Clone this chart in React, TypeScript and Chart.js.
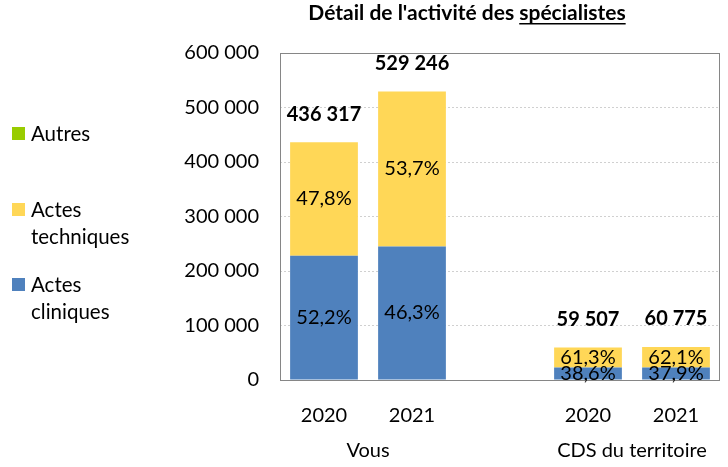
import React, { useEffect, useRef } from 'react';
import { Chart, registerables } from 'chart.js';

Chart.register(...registerables);

const categories = ['2020', '2021', '', '2020', '2021'];
const groupLabels = ['Vous', 'CDS du territoire'];
const groupIndexes = [[0, 1], [3, 4]];
const actesCliniques = [227757, 245041, null, 22970, 23034];
const actesTechniques = [208560, 284205, null, 36478, 37741];
const autres = [0, 0, null, 59, 0];
const seriesNames = ['Actes cliniques', 'Actes techniques', 'Autres'];
const seriesColors = ['#4F81BD', '#FFD757', '#99CC00'];
const legendOrder = [
  { idx: 2, lines: ['Autres'], y: 134 },
  { idx: 1, lines: ['Actes', 'techniques'], y: 210 },
  { idx: 0, lines: ['Actes', 'cliniques'], y: 285 },
];
const titleMain = "Détail de l'activité des ";
const titleUnderlined = 'spécialistes';
const yMax = 600000;
const yStep = 100000;

const FONT = 'Lato, "Open Sans", sans-serif';

function fmtThousands(n: number): string {
  return Math.round(n).toString().replace(/\B(?=(\d{3})+(?!\d))/g, ' ');
}
function fmtPct(p: number): string {
  return p.toFixed(1).replace('.', ',') + '%';
}

const overlayPlugin = {
  id: 'overlay',
  afterDatasetsDraw(chart: any) {
    const { ctx, chartArea: a, scales } = chart;
    const xs = scales.x;
    const ys = scales.y;
    ctx.save();
    // plot border
    ctx.strokeStyle = '#868686';
    ctx.lineWidth = 1;
    ctx.strokeRect(Math.round(a.left) + 0.5, Math.round(a.top) + 0.5, Math.round(a.right - a.left) - 1, Math.round(a.bottom - a.top));

    const series = [actesCliniques, actesTechniques, autres];
    const n = categories.length;
    ctx.fillStyle = '#000';
    ctx.textAlign = 'center';
    ctx.textBaseline = 'middle';
    ctx.font = `20px ${FONT}`;
    for (let j = 0; j < n; j++) {
      let total = 0;
      series.forEach((s) => { total += (s[j] as number) || 0; });
      if (!total) continue;
      for (let i = 0; i < 2; i++) {
        const v = series[i][j] as number;
        if (!v) continue;
        const bar = chart.getDatasetMeta(i).data[j];
        const cy = (bar.y + bar.base) / 2;
        ctx.fillText(fmtPct((v / total) * 100), bar.x, cy);
      }
      ctx.font = `bold 20px ${FONT}`;
      ctx.fillText(fmtThousands(total), xs.getPixelForValue(j), ys.getPixelForValue(total) - 28);
      ctx.font = `20px ${FONT}`;
    }
    // group labels
    groupIndexes.forEach((g, k) => {
      const cx = (xs.getPixelForValue(g[0]) + xs.getPixelForValue(g[1])) / 2;
      ctx.fillText(groupLabels[k], cx, 451);
    });
    // title
    ctx.font = `bold 21px ${FONT}`;
    ctx.textAlign = 'left';
    ctx.textBaseline = 'alphabetic';
    const w1 = ctx.measureText(titleMain).width;
    const w2 = ctx.measureText(titleUnderlined).width;
    const tx = 467 - (w1 + w2) / 2;
    ctx.fillText(titleMain, tx, 20);
    ctx.fillText(titleUnderlined, tx + w1, 20);
    ctx.fillRect(tx + w1, 23, w2, 1.5);
    // legend
    ctx.font = `20.5px ${FONT}`;
    ctx.textBaseline = 'middle';
    legendOrder.forEach((l) => {
      ctx.fillStyle = seriesColors[l.idx];
      ctx.fillRect(12, l.y - 7, 13, 13);
      ctx.fillStyle = '#000';
      l.lines.forEach((t, li) => ctx.fillText(t, 31, l.y + li * 27));
    });
    ctx.restore();
  },
};

export default function App() {
  const ref = useRef<HTMLCanvasElement>(null);
  useEffect(() => {
    document.body.style.margin = '0';
    const chart = new Chart(ref.current as HTMLCanvasElement, {
      type: 'bar',
      data: {
        labels: categories,
        datasets: [actesCliniques, actesTechniques, autres].map((d, i) => ({
          label: seriesNames[i],
          data: d as any,
          backgroundColor: seriesColors[i],
          borderWidth: 0,
          categoryPercentage: 1,
          barPercentage: 0.77,
        })),
      },
      options: {
        animation: false,
        responsive: true,
        maintainAspectRatio: false,
        layout: { padding: { left: 180, top: 53, right: 8, bottom: 0 } },
        plugins: { legend: { display: false }, tooltip: { enabled: false }, title: { display: false } },
        scales: {
          x: {
            stacked: true,
            grid: { display: false },
            border: { display: false },
            ticks: { color: '#000', font: { family: FONT, size: 20 }, padding: 16, maxRotation: 0, autoSkip: false },
            afterFit: (s: any) => { s.height = 87; },
          },
          y: {
            stacked: true,
            min: 0,
            max: yMax,
            grid: { color: '#D0D0D0', drawTicks: false },
            border: { display: false, dash: [2, 2] },
            ticks: {
              stepSize: yStep,
              color: '#000',
              font: { family: FONT, size: 20 },
              padding: 21,
              callback: (v: any) => fmtThousands(Number(v)),
            },
            afterFit: (s: any) => { s.width = 100; },
          },
        },
      },
      plugins: [overlayPlugin],
    });
    return () => chart.destroy();
  }, []);
  return (
    <div style={{ position: 'relative', width: 728, height: 467 }}>
      <canvas ref={ref} />
    </div>
  );
}
